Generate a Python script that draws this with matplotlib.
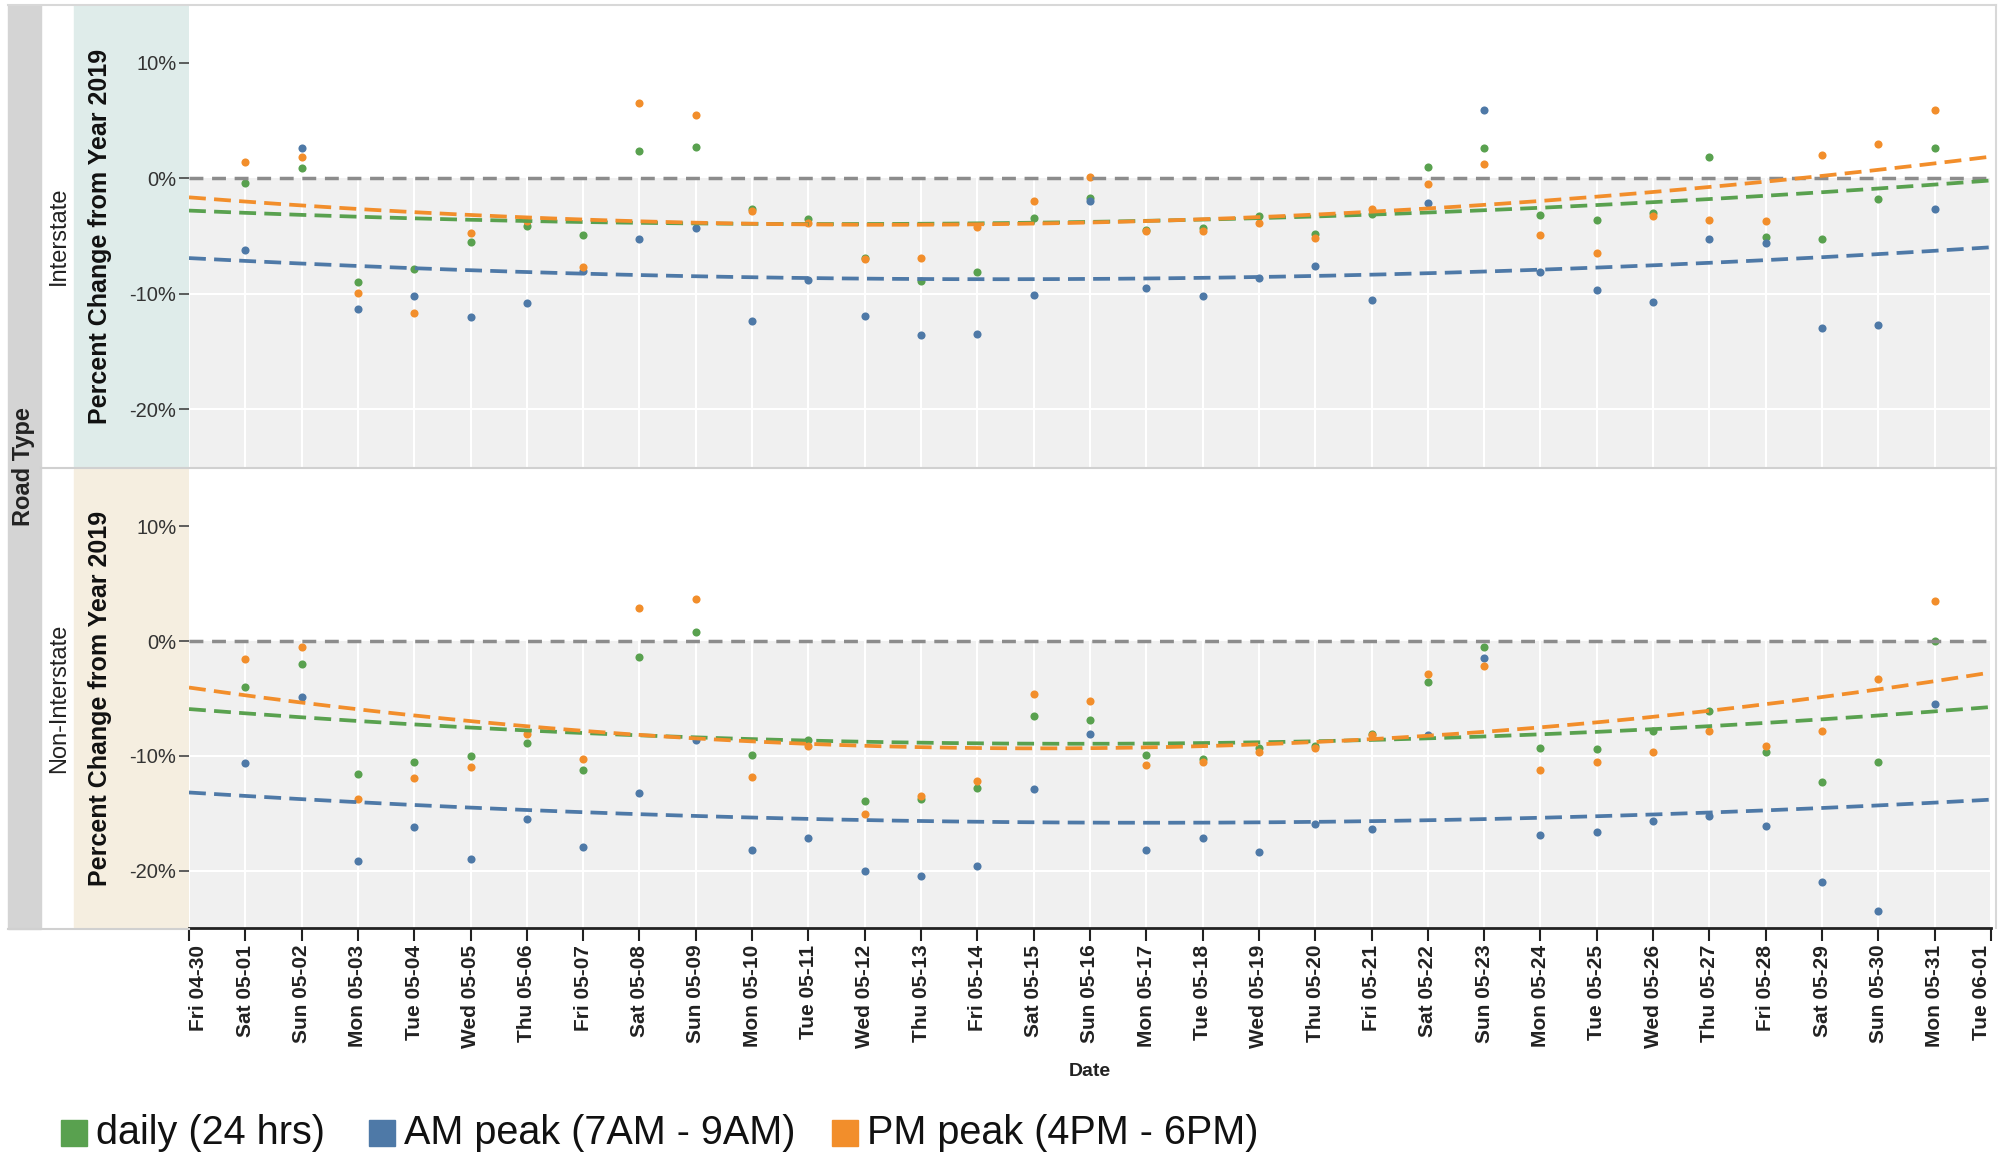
import numpy as np
import matplotlib
matplotlib.use('Agg')
import matplotlib.pyplot as plt
from matplotlib.patches import Rectangle
from matplotlib import font_manager

# tick labels, 04-30 .. 06-01
date_labels = ['Fri 04-30', 'Sat 05-01', 'Sun 05-02', 'Mon 05-03', 'Tue 05-04', 'Wed 05-05',
               'Thu 05-06', 'Fri 05-07', 'Sat 05-08', 'Sun 05-09', 'Mon 05-10', 'Tue 05-11',
               'Wed 05-12', 'Thu 05-13', 'Fri 05-14', 'Sat 05-15', 'Sun 05-16', 'Mon 05-17',
               'Tue 05-18', 'Wed 05-19', 'Thu 05-20', 'Fri 05-21', 'Sat 05-22', 'Sun 05-23',
               'Mon 05-24', 'Tue 05-25', 'Wed 05-26', 'Thu 05-27', 'Fri 05-28', 'Sat 05-29',
               'Sun 05-30', 'Mon 05-31', 'Tue 06-01']
days = np.arange(1, 32)  # data from 05-01 to 05-31

# Interstate
inter_daily = [-0.4, 0.9, -9.0, -7.9, -5.5, -4.1, -4.9, 2.4, 2.7, -2.7, -3.5, -6.9, -8.9, -8.1,
               -3.4, -1.7, -4.5, -4.3, -3.3, -4.8, -3.1, 1.0, 2.6, -3.2, -3.6, -3.0, 1.8, -5.1,
               -5.3, -1.8, 2.6]
inter_am = [-6.2, 2.6, -11.3, -10.2, -12.0, -10.8, -8.0, -5.3, -4.3, -12.4, -8.8, -11.9, -13.6,
            -13.5, -10.1, -2.0, -9.5, -10.2, -8.6, -7.6, -10.5, -2.1, 5.9, -8.1, -9.7, -10.7,
            -5.3, -5.6, -13.0, -12.7, -2.7]
inter_pm = [1.4, 1.8, -9.9, -11.7, -4.7, -3.7, -7.7, 6.5, 5.5, -2.8, -3.9, -7.0, -6.9, -4.2,
            -2.0, 0.1, -4.6, -4.6, -3.9, -5.2, -2.7, -0.5, 1.2, -4.9, -6.5, -3.3, -3.6, -3.7,
            2.0, 3.0, 5.9]

# Non-Interstate
non_daily = [-4.0, -2.0, -11.6, -10.5, -10.0, -8.9, -11.2, -1.4, 0.8, -9.9, -8.6, -13.9, -13.8,
             -12.8, -6.5, -6.9, -9.9, -10.3, -9.3, -9.1, -8.1, -3.6, -0.5, -9.3, -9.4, -7.8,
             -6.1, -9.7, -12.3, -10.5, 0.0]
non_am = [-10.6, -4.9, -19.2, -16.2, -19.0, -15.5, -17.9, -13.2, -8.6, -18.2, -17.2, -20.0,
          -20.5, -19.6, -12.9, -8.1, -18.2, -17.2, -18.4, -15.9, -16.4, -8.2, -1.5, -16.9,
          -16.6, -15.7, -15.2, -16.1, -21.0, -23.5, -5.5]
non_pm = [-1.6, -0.5, -13.8, -11.9, -11.0, -8.1, -10.3, 2.9, 3.7, -11.8, -9.1, -15.1, -13.5,
          -12.2, -4.6, -5.2, -10.8, -10.5, -9.7, -9.3, -8.2, -2.9, -2.2, -11.2, -10.5, -9.7,
          -7.8, -9.1, -7.8, -3.3, 3.5]

panels = ['Interstate', 'Non-Interstate']
strip_colors = ['#dfecea', '#f5eee0']
series_names = ['daily (24 hrs)', 'AM peak (7AM - 9AM)', 'PM peak (4PM - 6PM)']
colors = ['#59a14f', '#4e79a7', '#f28e2b']
panel_data = [[inter_daily, inter_am, inter_pm], [non_daily, non_am, non_pm]]

W, H = 1999, 1160

names = {f.name for f in font_manager.fontManager.ttflist}
narrow = 'Liberation Sans Narrow' in names
plt.rcParams['font.family'] = ['Liberation Sans', 'DejaVu Sans']
nfam = ['Liberation Sans Narrow', 'Liberation Sans'] if narrow else ['Liberation Sans']
ntick = 17 if narrow else 14.5
nleg = 34 if narrow else 28.5


def fx(px):
    return px / W


def fy(py):
    return 1 - py / H


fig = plt.figure(figsize=(W / 100, H / 100), dpi=100)

# left strips (drawn under the axes so the tick labels stay visible)
fig.patches.append(Rectangle((fx(8), fy(929)), fx(41) - fx(8), fy(5) - fy(929),
                             transform=fig.transFigure, color='#d4d4d4', zorder=-2))
fig.text(fx(24), fy(467), 'Road Type', rotation=90, ha='center', va='center',
         fontsize=17, fontweight='bold', color='#222222')

panel_px = [(5, 467), (469, 928)]
axes = []
for i, (top, bot) in enumerate(panel_px):
    fig.patches.append(Rectangle((fx(74), fy(bot)), fx(189) - fx(74), fy(top) - fy(bot),
                                 transform=fig.transFigure, color=strip_colors[i], zorder=-2))
    fig.text(fx(59), fy((top + bot) / 2), panels[i], rotation=90, ha='center', va='center',
             fontsize=17, color='#222222')
    fig.text(fx(100), fy((top + bot) / 2), 'Percent Change from Year 2019', rotation=90,
             ha='center', va='center', fontsize=18, fontweight='bold', color='#111111')

    ax = fig.add_axes([fx(189), fy(bot), fx(1991) - fx(189), fy(top) - fy(bot)])
    ax.set_xlim(0, 32)
    ax.set_ylim(-25, 15)
    ax.set_facecolor('white')
    ax.axhspan(-25, 0, color='#f0f0f0', zorder=0, lw=0)
    for d in range(33):
        ax.axvline(d, color='white', lw=1.5, zorder=1)
    for yv in [-20, -10, 10]:
        ax.axhline(yv, color='white', lw=1.5, zorder=1)
    ax.axhline(0, color='#8c8c8c', lw=2.5, dashes=(4, 2.5), zorder=3)

    xs = np.linspace(0, 32, 200)
    for vals, c in zip(panel_data[i], colors):
        ax.scatter(days, vals, s=34, color=c, zorder=2, linewidths=0)
        coef = np.polyfit(days, vals, 2)
        ax.plot(xs, np.polyval(coef, xs), color=c, lw=2.7, dashes=(4.5, 2.2), zorder=4)

    ax.set_yticks([-20, -10, 0, 10])
    ax.set_yticklabels(['-20%', '-10%', '0%', '10%'], family=nfam, fontsize=ntick,
                       color='#333333')
    ax.tick_params(axis='y', length=7, width=1.2, color='#444444', pad=2)
    ax.set_xticks(range(33))
    for s in ax.spines.values():
        s.set_visible(False)
    axes.append(ax)

axes[0].tick_params(axis='x', bottom=False, labelbottom=False)
axb = axes[1]
axb.spines['bottom'].set_visible(True)
axb.spines['bottom'].set_linewidth(2)
axb.spines['bottom'].set_color('#222222')
axb.tick_params(axis='x', length=9, width=1.5, color='#222222', pad=3)
axb.set_xticklabels(date_labels, rotation=90, fontsize=15, fontweight='bold',
                    color='#222222', va='top')
tl = axb.get_xticklabels()
tl[0].set_ha('left')
tl[-1].set_ha('right')
fig.text(fx(1090), fy(1072), 'Date', ha='center', va='center', fontsize=14,
         fontweight='bold', color='#222222')

# frame lines
fig.add_artist(plt.Line2D([fx(8), fx(1996)], [fy(5), fy(5)], color='#d8d8d8', lw=1.5))
fig.add_artist(plt.Line2D([fx(1996), fx(1996)], [fy(5), fy(928)], color='#d8d8d8', lw=1.5))
fig.add_artist(plt.Line2D([fx(41), fx(1996)], [fy(468), fy(468)], color='#d0d0d0', lw=1.5))
fig.add_artist(plt.Line2D([fx(8), fx(189)], [fy(929), fy(929)], color='#d0d0d0', lw=1.5))

# legend
leg_x = [61, 369, 832]
for lx, name, c in zip(leg_x, series_names, colors):
    fig.patches.append(Rectangle((fx(lx), fy(1146)), fx(26), 26 / H,
                                 transform=fig.transFigure, color=c))
    fig.text(fx(lx + 35), fy(1133), name, ha='left', va='center', family=nfam,
             fontsize=nleg, color='#111111')

fig.savefig('out.png', dpi=100)
